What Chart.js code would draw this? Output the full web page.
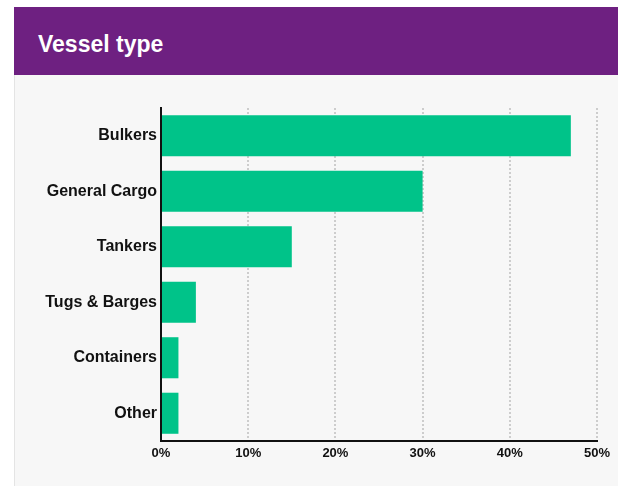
<!DOCTYPE html>
<html>
<head>
<meta charset="utf-8">
<title>Vessel type</title>
<script src="https://cdn.jsdelivr.net/npm/chart.js@4"></script>
<style>
	body { margin: 0; background: #fff; width: 618px; height: 486px; overflow: hidden; position: relative; font-family: "Liberation Sans", Arial, sans-serif; }
	#header { position: absolute; left: 14px; top: 7px; width: 604px; height: 68px; background: #6e2081; }
	#header h1 { margin: 0; position: absolute; left: 24px; top: 26px; font-size: 23px; line-height: 23px; font-weight: bold; color: #fff; }
	#panel { position: absolute; left: 14px; top: 75px; width: 603px; height: 411px; background: #f7f7f7; border-left: 1px solid #e4e4e4; }
	#chartBox { position: absolute; left: 0; top: 0; width: 603px; height: 411px; }
</style>
</head>
<body>
<div id="header"><h1>Vessel type</h1></div>
<div id="panel"><div id="chartBox"><canvas id="vessels"></canvas></div></div>
<script>
// share of vessels by type, in percent
const vesselTypes = ["Bulkers", "General Cargo", "Tankers", "Tugs & Barges", "Containers", "Other"];
const vesselShare = [47, 30, 15, 4, 2, 2];
const xTicks = [0, 10, 20, 30, 40, 50];

const labelFont = { family: "'Liberation Sans', Arial, sans-serif", weight: "bold" };

new Chart(document.getElementById("vessels"), {
	type: "bar",
	data: {
		labels: vesselTypes,
		datasets: [{
			data: vesselShare,
			backgroundColor: "#00c389",
			categoryPercentage: 1,
			barPercentage: 0.74
		}]
	},
	options: {
		indexAxis: "y",
		responsive: true,
		maintainAspectRatio: false,
		animation: false,
		layout: { padding: { top: 33, right: 21, bottom: 24, left: 0 } },
		plugins: { legend: { display: false }, tooltip: { enabled: false } },
		scales: {
			x: {
				min: 0,
				max: 50,
				afterBuildTicks: (scale) => { scale.ticks = xTicks.map(v => ({ value: v })); },
				afterFit: (scale) => { scale.height = 21; },
				// dotted vertical grid, solid black base line
				grid: { color: "#cdcdcd", lineWidth: 2, drawTicks: false },
				border: { color: "#111", width: 2, dash: [2, 2] },
				ticks: {
					padding: 5,
					color: "#111",
					font: Object.assign({ size: 13 }, labelFont),
					callback: (v) => v + "%"
				}
			},
			y: {
				afterFit: (scale) => { scale.width = 146; },
				grid: { display: false, drawTicks: false },
				border: { color: "#111", width: 2 },
				ticks: {
					padding: 4,
					color: "#111",
					font: Object.assign({ size: 16 }, labelFont)
				}
			}
		}
	}
});
</script>
</body>
</html>
